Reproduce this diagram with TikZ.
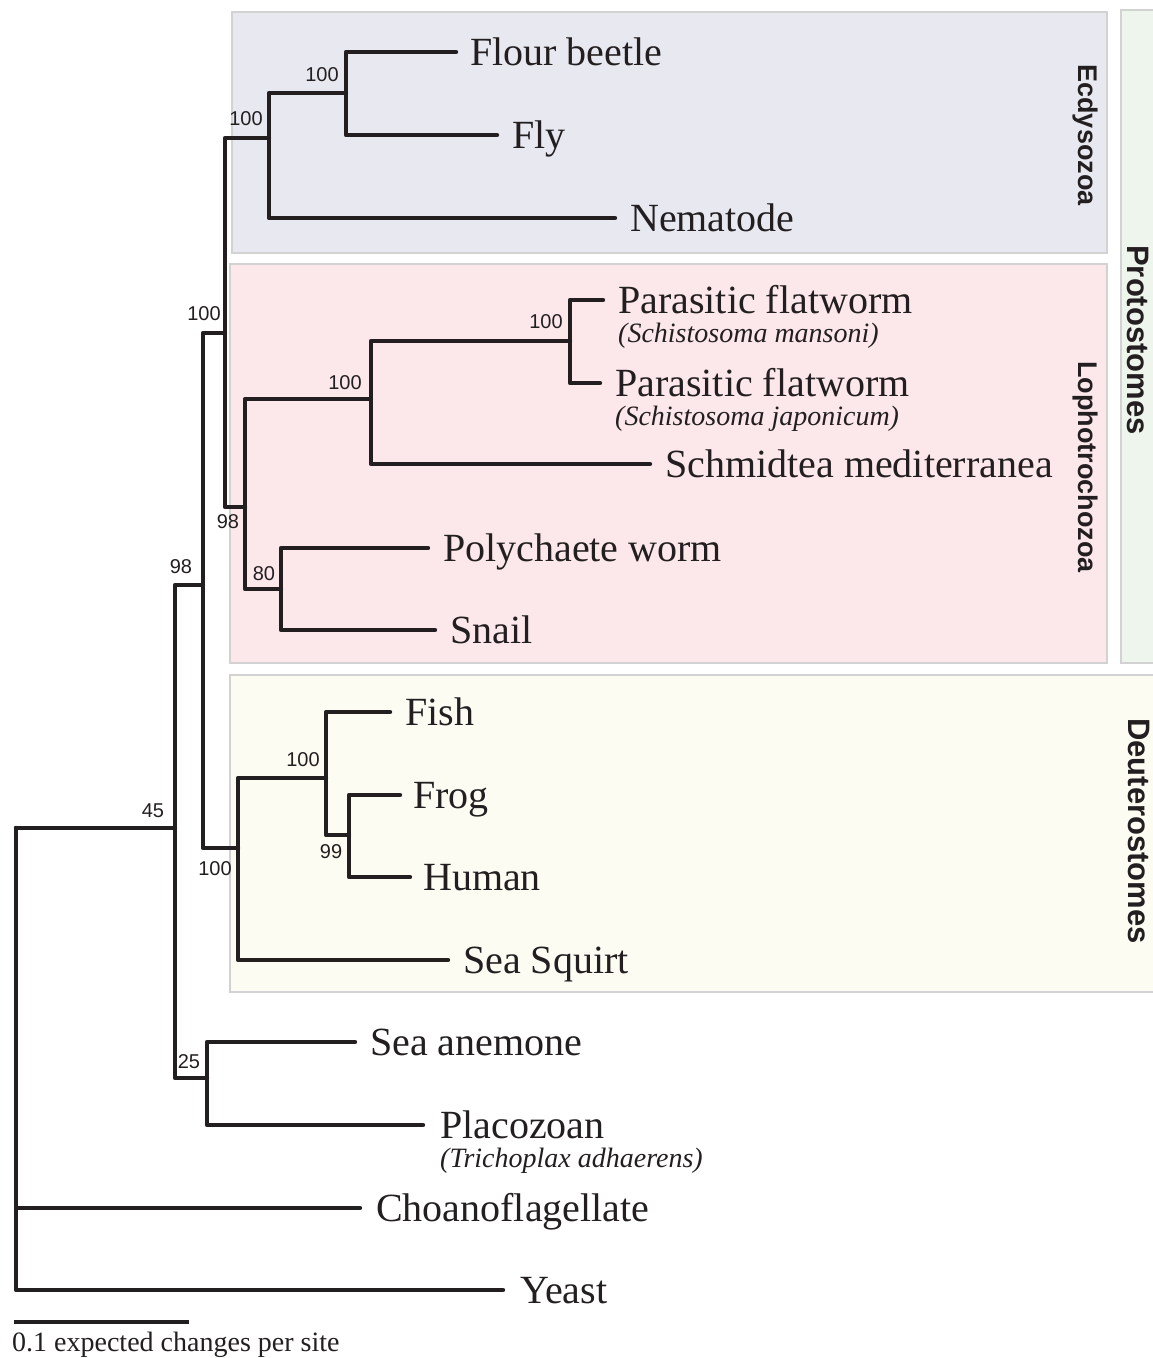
\documentclass[tikz,border=0pt]{standalone}
\usepackage{fontspec}
\setmainfont{Liberation Serif}
\newfontfamily\sansf{Liberation Sans}
\begin{document}
\definecolor{ink}{HTML}{231F20}
\definecolor{ecdfill}{HTML}{E8E8F1}
\definecolor{lophfill}{HTML}{FCE8EA}
\definecolor{protfill}{HTML}{EEF5EC}
\definecolor{deutfill}{HTML}{FCFCF3}
\definecolor{boxline}{HTML}{D2D2D2}
\tikzset{
  branch/.style={line width=4.4pt, draw=ink, line cap=round, line join=round},
  taxon/.style={anchor=base west, inner sep=0pt, text=ink, font=\fontsize{40}{44}\selectfont},
  species/.style={anchor=base west, inner sep=0pt, text=ink, font=\fontsize{28}{32}\selectfont\itshape},
  boot/.style={inner sep=0pt, text=ink, font=\sansf\fontsize{20}{23}\selectfont},
  cladebox/.style={draw=boxline, line width=1.5pt},
  cladelabel/.style={rotate=-90, inner sep=0pt, text=ink, font=\sansf\bfseries\fontsize{27}{30}\selectfont},
  grouplabel/.style={rotate=-90, inner sep=0pt, text=ink, font=\sansf\bfseries\fontsize{31}{34}\selectfont},
  scaletext/.style={anchor=base west, inner sep=0pt, text=ink, font=\fontsize{28}{32}\selectfont}
}
\begin{tikzpicture}[x=1pt,y=-1pt]
\useasboundingbox (0,0) rectangle (1153,1358);
\clip (0,0) rectangle (1153,1358);
\fill[white] (0,0) rectangle (1153,1358);
% clade boxes
\path[cladebox, fill=ecdfill] (232,12) rectangle (1107,253);
\path[cladebox, fill=lophfill] (230,264) rectangle (1107,663);
\path[cladebox, fill=protfill] (1121,10) rectangle (1170,663);
\path[cladebox, fill=deutfill] (230,675) rectangle (1170,992);
% clade labels
\node[cladelabel] (lEcd) at (1085,135) {Ecdysozoa};
\node[cladelabel] (lLoph) at (1085,467) {Lophotrochozoa};
\node[grouplabel] (lProt) at (1138,340) {Protostomes};
\node[grouplabel] (lDeut) at (1139,831) {Deuterostomes};
% internal nodes
\coordinate (root) at (16,828);
\coordinate (n45) at (175,828);
\coordinate (n98a) at (203,585);
\coordinate (nProt) at (225,333);
\coordinate (nEcd) at (269,138);
\coordinate (nFB) at (346,93);
\coordinate (nLoph) at (245,507);
\coordinate (nPl) at (371,399);
\coordinate (nSch) at (570,341);
\coordinate (n80) at (281,589);
\coordinate (nDeut) at (238,848);
\coordinate (nVert) at (326,778);
\coordinate (nFH) at (349,835);
\coordinate (n25) at (207,1078);
% tips
\coordinate (tFB) at (456,52);
\coordinate (tFly) at (497,135);
\coordinate (tNem) at (615,218);
\coordinate (tPF1) at (603,300);
\coordinate (tPF2) at (600,383);
\coordinate (tSch) at (650,464);
\coordinate (tPoly) at (428,548);
\coordinate (tSnail) at (435,630);
\coordinate (tFish) at (390,712);
\coordinate (tFrog) at (400,795);
\coordinate (tHuman) at (410,877);
\coordinate (tSq) at (448,960);
\coordinate (tAn) at (355,1042);
\coordinate (tPlac) at (423,1125);
\coordinate (tCho) at (360,1208);
\coordinate (tYeast) at (503,1290);
% branches
\draw[branch] (root) |- (n45);
\draw[branch] (root) |- (tCho);
\draw[branch] (root) |- (tYeast);
\draw[branch] (n45) |- (n98a);
\draw[branch] (n45) |- (n25);
\draw[branch] (n98a) |- (nProt);
\draw[branch] (n98a) |- (nDeut);
\draw[branch] (nProt) |- (nEcd);
\draw[branch] (nProt) |- (nLoph);
\draw[branch] (nEcd) |- (nFB);
\draw[branch] (nEcd) |- (tNem);
\draw[branch] (nFB) |- (tFB);
\draw[branch] (nFB) |- (tFly);
\draw[branch] (nLoph) |- (nPl);
\draw[branch] (nLoph) |- (n80);
\draw[branch] (nPl) |- (nSch);
\draw[branch] (nPl) |- (tSch);
\draw[branch] (nSch) |- (tPF1);
\draw[branch] (nSch) |- (tPF2);
\draw[branch] (n80) |- (tPoly);
\draw[branch] (n80) |- (tSnail);
\draw[branch] (nDeut) |- (nVert);
\draw[branch] (nDeut) |- (tSq);
\draw[branch] (nVert) |- (tFish);
\draw[branch] (nVert) |- (nFH);
\draw[branch] (nFH) |- (tFrog);
\draw[branch] (nFH) |- (tHuman);
\draw[branch] (n25) |- (tAn);
\draw[branch] (n25) |- (tPlac);
% tip labels
\node[taxon] (lFB) at (470,65) {Flour beetle};
\node[taxon] (lFly) at (512,148) {Fly};
\node[taxon] (lNem) at (630,231) {Nematode};
\node[taxon] (lPF1) at (618,313) {Parasitic flatworm};
\node[species] (sPF1) at (618,342) {(Schistosoma mansoni)};
\node[taxon] (lPF2) at (615,396) {Parasitic flatworm};
\node[species] (sPF2) at (615,425) {(Schistosoma japonicum)};
\node[taxon] (lSch) at (665,477) {Schmidtea mediterranea};
\node[taxon] (lPoly) at (443,561) {Polychaete worm};
\node[taxon] (lSnail) at (450,643) {Snail};
\node[taxon] (lFish) at (405,725) {Fish};
\node[taxon] (lFrog) at (413,808) {Frog};
\node[taxon] (lHuman) at (423,890) {Human};
\node[taxon] (lSq) at (463,973) {Sea Squirt};
\node[taxon] (lAn) at (370,1055) {Sea anemone};
\node[taxon] (lPlac) at (440,1138) {Placozoan};
\node[species] (sPlac) at (440,1167) {(Trichoplax adhaerens)};
\node[taxon] (lCho) at (376,1221) {Choanoflagellate};
\node[taxon] (lYeast) at (520,1303) {Yeast};
% bootstrap values
\node[boot] (bFB) at (322,75) {100};
\node[boot] (bEcd) at (246,119) {100};
\node[boot] (bProt) at (204,314) {100};
\node[boot] (bLoph) at (228,522) {98};
\node[boot] (bPl) at (345,383) {100};
\node[boot] (bSch) at (546,322) {100};
\node[boot] (b80) at (264,574) {80};
\node[boot] (b98a) at (181,567) {98};
\node[boot] (b45) at (153,811) {45};
\node[boot] (bDeut) at (215,869) {100};
\node[boot] (bVert) at (303,760) {100};
\node[boot] (bFH) at (331,852) {99};
\node[boot] (b25) at (189,1062) {25};
% scale bar
\coordinate (sbL) at (14,1322);
\coordinate (sbR) at (189,1322);
\draw[line width=4.4pt, draw=ink] (sbL) -- (sbR);
\node[scaletext] (lScale) at (12,1351) {0.1 expected changes per site};
\end{tikzpicture}
\end{document}
